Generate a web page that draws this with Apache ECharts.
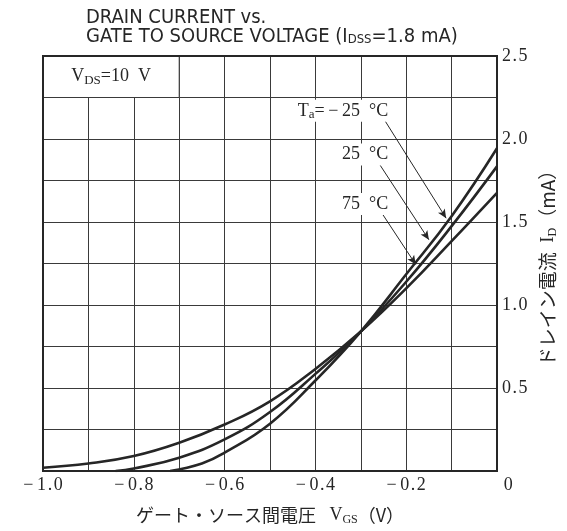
<!DOCTYPE html>
<html>
<head>
<meta charset="utf-8">
<script src="https://cdn.jsdelivr.net/npm/echarts@6/dist/echarts.min.js"></script>
<style>
html, body { margin: 0; padding: 0; background: #fff; }
#chart { width: 567px; height: 531px; }
</style>
</head>
<body>
<div id="chart"></div>
<script>
// I_D vs V_GS
var vgsM25 = [-0.72, -0.65, -0.6, -0.5, -0.4, -0.3, -0.2, -0.1, 0];
var idM25 = [0, 0.045, 0.11, 0.285, 0.545, 0.84, 1.185, 1.535, 1.944];

var vgs25 = [-0.84, -0.8, -0.7, -0.6, -0.5, -0.4, -0.3, -0.2, -0.1, 0];
var id25 = [0, 0.015, 0.08, 0.19, 0.355, 0.585, 0.84, 1.14, 1.475, 1.835];

var vgs75 = [-1.0, -0.9, -0.8, -0.7, -0.6, -0.5, -0.4, -0.3, -0.2, -0.1, 0];
var id75 = [0.02, 0.045, 0.09, 0.17, 0.28, 0.42, 0.615, 0.84, 1.10, 1.385, 1.676];

var xTicks = [-1.0, -0.8, -0.6, -0.4, -0.2, 0];
var yTicks = [0.5, 1.0, 1.5, 2.0, 2.5];

function pairs(xs, ys) {
    return xs.map(function (x, i) { return [x, ys[i]]; });
}
function near(list, v) {
    return list.some(function (t) { return Math.abs(t - v) < 1e-6; });
}
// the scan prints its numbers with loose spacing
function spaced(s) {
    return s.replace('.', '\u200a.\u200a');
}

var serif = '"Liberation Serif", "DejaVu Serif", serif';
var sans = '"Liberation Sans Narrow", "DejaVu Sans Condensed", "Liberation Sans", sans-serif';
var jp = '"Noto Sans CJK JP", sans-serif';
var ink = '#262626';

var myChart = echarts.init(document.getElementById('chart'));

function curve(name, data) {
    return {
        name: name,
        type: 'line',
        data: data,
        symbol: 'none',
        smooth: 0.45,
        z: 3,
        lineStyle: { color: ink, width: 2.6 }
    };
}

var noteRich = {
    n: { fontFamily: serif, fontSize: 18, color: ink, lineHeight: 20 },
    s: { fontFamily: serif, fontSize: 13, color: ink, lineHeight: 14, verticalAlign: 'bottom' }
};

var option = {
    animation: false,
    title: {
        left: 81,
        top: 3,
        text: '{t|DRAIN CURRENT vs.}\n{t|GATE TO SOURCE VOLTAGE (I}{s|DSS}{t|=1.8 mA)}',
        textStyle: {
            fontWeight: 'normal',
            rich: {
                t: { fontFamily: sans, fontSize: 20, fontWeight: 'normal', color: ink, lineHeight: 19 },
                s: { fontFamily: sans, fontSize: 13, fontWeight: 'normal', color: ink, lineHeight: 13, verticalAlign: 'bottom' }
            }
        }
    },
    grid: { left: 43, right: 66, top: 56, bottom: 58 },
    xAxis: {
        type: 'value',
        min: -1,
        max: 0,
        interval: 0.1,
        axisLine: { show: false },
        axisTick: { show: false },
        splitLine: { show: true, lineStyle: { color: '#3a3a3a', width: 1 } },
        axisLabel: {
            margin: 5,
            fontFamily: serif,
            fontSize: 18,
            color: ink,
            formatter: function (v) {
                if (!near(xTicks, v)) return '';
                if (Math.abs(v) < 1e-9) return '     0';
                return '\u2212\u2009' + spaced(Math.abs(v).toFixed(1));
            }
        },
        name: '{j|ゲート・ソース間電圧}{l|   V}{s|GS}{j|（V）}',
        nameLocation: 'middle',
        nameGap: 33,
        nameTextStyle: {
            rich: {
                j: { fontFamily: jp, fontSize: 18, color: ink, lineHeight: 22 },
                l: { fontFamily: serif, fontSize: 18, color: ink, lineHeight: 22 },
                s: { fontFamily: serif, fontSize: 12, color: ink, lineHeight: 12, verticalAlign: 'bottom' }
            }
        }
    },
    yAxis: {
        type: 'value',
        position: 'right',
        min: 0,
        max: 2.5,
        interval: 0.25,
        axisLine: { show: false },
        axisTick: { show: false },
        splitLine: { show: true, lineStyle: { color: '#3a3a3a', width: 1 } },
        axisLabel: {
            margin: 5,
            fontFamily: serif,
            fontSize: 18,
            color: ink,
            formatter: function (v) {
                return near(yTicks, v) ? spaced(v.toFixed(1)) : '';
            }
        },
        name: '{j|ドレイン電流}{l|  I}{s|D}{j|（mA）}',
        nameLocation: 'middle',
        nameRotate: 90,
        nameGap: 40,
        nameTextStyle: {
            rich: {
                j: { fontFamily: jp, fontSize: 19, color: ink, lineHeight: 22 },
                l: { fontFamily: serif, fontSize: 19, color: ink, lineHeight: 22 },
                s: { fontFamily: serif, fontSize: 12, color: ink, lineHeight: 12, verticalAlign: 'bottom' }
            }
        }
    },
    series: [
        curve('-25', pairs(vgsM25, idM25)),
        curve('25', pairs(vgs25, id25)),
        curve('75', pairs(vgs75, id75)),
        {
            name: 'notes',
            type: 'line',
            data: [],
            z: 2,
            silent: true,
            markArea: {
                silent: true,
                data: [
                    [{
                        coord: [-1, 2.25],
                        itemStyle: { color: '#fff', borderColor: '#3a3a3a', borderWidth: 1 },
                        label: {
                            show: true,
                            position: 'inside',
                            formatter: '{n|V}{s|DS}{n|=10  V}',
                            rich: noteRich
                        }
                    }, { coord: [-0.7, 2.5] }],
                    [{
                        coord: [-1, 0],
                        itemStyle: { color: 'rgba(0,0,0,0)', borderColor: ink, borderWidth: 2 },
                        label: { show: false }
                    }, { coord: [0, 2.5] }]
                ]
            },
            markLine: {
                silent: true,
                symbol: ['none', 'arrow'],
                symbolSize: [6, 9],
                label: { show: false },
                lineStyle: { color: ink, width: 1, type: 'solid' },
                data: [
                    [{ coord: [-0.25, 2.124] }, { coord: [-0.112, 1.523] }],
                    [{ coord: [-0.26, 1.853] }, { coord: [-0.15, 1.393] }],
                    [{ coord: [-0.254, 1.555] }, { coord: [-0.179, 1.244] }]
                ]
            },
            markPoint: {
                silent: true,
                symbolSize: 0,
                label: {
                    show: true,
                    position: 'left',
                    distance: 0,
                    backgroundColor: '#fff',
                    padding: [1, 2, 1, 2],
                    rich: noteRich
                },
                data: [
                    { coord: [-0.235, 2.17], label: { formatter: '{n|T}{s|a}{n|=\u2009\u2212\u200925  °C}' } },
                    { coord: [-0.235, 1.907], label: { formatter: '{n|25  °C}' } },
                    { coord: [-0.235, 1.608], label: { formatter: '{n|75  °C}' } }
                ]
            }
        }
    ]
};

myChart.setOption(option);
</script>
</body>
</html>
